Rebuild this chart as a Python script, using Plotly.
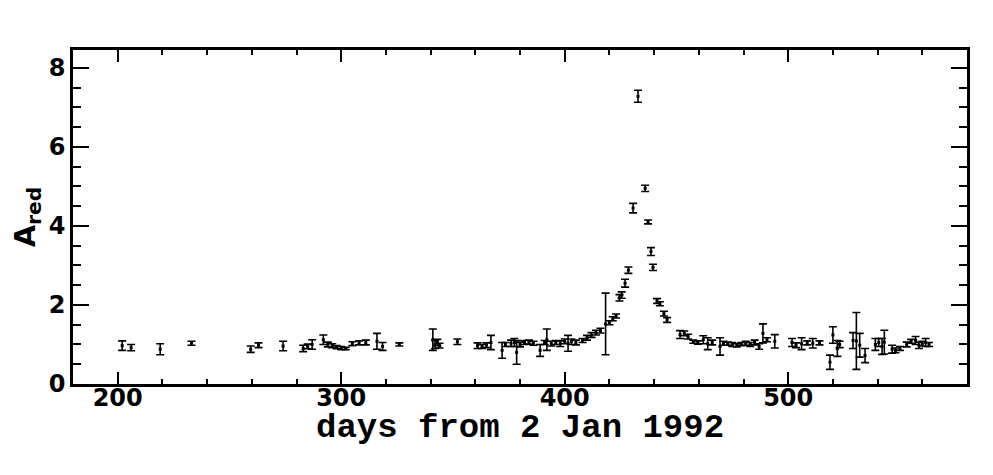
import plotly.graph_objects as go

days = [202, 206, 219, 233, 259.5, 263, 274, 283, 285, 287, 292, 294, 296, 298, 300, 302,
        305, 308, 311, 316, 318.5, 326, 341, 342, 343, 344, 352, 361, 363, 365, 367,
        372, 373.5, 376, 377.5, 378.5, 380, 382, 384, 386, 389, 391, 392, 394, 396, 398,
        400, 401.5, 403, 405, 408, 410, 412, 414, 416, 418.3, 420, 421.5, 423, 424.5,
        425.5, 427, 428.5, 430.6, 432.8, 436, 437.3, 438.6, 439.5, 441.3, 442.6, 444.4,
        445.8, 451.6, 453.5, 455.2, 457.5, 459.6, 462, 464, 466, 469.5, 471, 473, 475,
        477, 479, 481, 483, 485, 487, 488.7, 490.5, 494, 501.7, 503.5, 506, 508.5, 511,
        514, 518.7, 520, 522, 523, 529, 530.5, 532, 534.4, 539, 540.5, 542, 543, 546.5,
        548, 550, 553, 555, 557, 558.5, 560, 561.5, 563]

a_red = [0.97, 0.92, 0.88, 1.03, 0.88, 0.98, 0.96, 0.90, 0.95, 1.00, 1.12, 1.00, 0.97, 0.93,
         0.91, 0.90, 1.02, 1.04, 1.05, 1.08, 0.95, 1.00, 1.12, 1.00, 1.05, 0.97, 1.07, 0.97,
         0.95, 0.98, 1.05, 0.85, 1.00, 1.03, 1.05, 0.80, 1.00, 1.05, 1.06, 1.03, 0.85, 1.05,
         1.12, 1.02, 1.05, 1.02, 1.08, 1.03, 1.07, 1.05, 1.10, 1.17, 1.24, 1.30, 1.35, 1.52,
         1.55, 1.65, 1.72, 2.18, 2.25, 2.55, 2.88, 4.45, 7.28, 4.95, 4.10, 3.35, 2.95, 2.10,
         2.03, 1.78, 1.62, 1.25, 1.28, 1.20, 1.07, 1.05, 1.12, 1.02, 1.05, 0.95, 1.03, 1.02,
         1.00, 0.98, 1.01, 1.03, 1.00, 1.05, 0.95, 1.28, 1.12, 1.08, 1.05, 0.98, 1.02, 1.04,
         1.03, 1.04, 0.55, 1.24, 0.90, 1.00, 1.10, 1.09, 0.98, 0.72, 1.00, 1.05, 0.95, 1.06,
         0.88, 0.85, 0.90, 1.00, 1.08, 1.10, 0.98, 1.02, 1.05, 1.00]

a_err = [0.12, 0.08, 0.14, 0.05, 0.08, 0.06, 0.12, 0.08, 0.06, 0.12, 0.12, 0.06, 0.05, 0.04,
         0.04, 0.03, 0.05, 0.05, 0.06, 0.20, 0.10, 0.04, 0.27, 0.10, 0.08, 0.06, 0.07, 0.07,
         0.05, 0.06, 0.18, 0.20, 0.05, 0.08, 0.10, 0.30, 0.06, 0.05, 0.05, 0.05, 0.15, 0.05,
         0.27, 0.06, 0.05, 0.07, 0.06, 0.20, 0.07, 0.06, 0.05, 0.06, 0.06, 0.06, 0.06, 0.78,
         0.05, 0.05, 0.05, 0.08, 0.08, 0.10, 0.08, 0.12, 0.15, 0.08, 0.05, 0.10, 0.08, 0.06,
         0.05, 0.06, 0.06, 0.10, 0.06, 0.06, 0.04, 0.04, 0.10, 0.15, 0.06, 0.22, 0.05, 0.04,
         0.05, 0.04, 0.04, 0.05, 0.05, 0.06, 0.07, 0.24, 0.05, 0.17, 0.10, 0.06, 0.15, 0.05,
         0.12, 0.05, 0.18, 0.21, 0.20, 0.08, 0.20, 0.72, 0.30, 0.18, 0.15, 0.10, 0.20, 0.30,
         0.10, 0.06, 0.05, 0.06, 0.05, 0.10, 0.08, 0.06, 0.10, 0.05]

fig = go.Figure(go.Scatter(
    x=days, y=a_red, mode='markers',
    marker=dict(symbol='square', size=3, color='black'),
    error_y=dict(type='data', array=a_err, visible=True, color='black', thickness=1.6, width=4),
    hoverinfo='x+y'
))

tickfont = dict(family='DejaVu Sans', size=24, color='black', weight='bold')

# the page body has an 8px margin, so the figure is a bit smaller than the window
fig.update_layout(
    width=985, height=467,
    margin=dict(l=65, r=26, t=42, b=91),
    plot_bgcolor='white', paper_bgcolor='white',
    showlegend=False,
    xaxis=dict(
        range=[180, 580], showgrid=False, zeroline=False, automargin=False,
        showline=True, linecolor='black', linewidth=2.5, mirror='allticks',
        ticks='inside', ticklen=12, tickwidth=2, tickcolor='black',
        tick0=0, dtick=100, tickfont=tickfont, ticklabelstandoff=-10,
        minor=dict(ticks='inside', ticklen=5, tickwidth=2, tickcolor='black', dtick=20, showgrid=False),
    ),
    yaxis=dict(
        range=[0, 8.45], showgrid=False, zeroline=False, automargin=False,
        showline=True, linecolor='black', linewidth=2.5, mirror='allticks',
        ticks='inside', ticklen=16, tickwidth=2, tickcolor='black',
        tick0=0, dtick=2, tickfont=tickfont,
        minor=dict(ticks='inside', ticklen=8, tickwidth=2, tickcolor='black', dtick=0.5, showgrid=False),
        title=dict(text='A<sub>red</sub>', standoff=20,
                   font=dict(family='DejaVu Sans', size=29, color='black', weight='bold')),
    ),
)

# x title as an annotation so it can sit close under the tick labels
fig.add_annotation(
    text='days from 2 Jan 1992', xref='paper', yref='paper', x=0.5, y=-0.132,
    xanchor='center', yanchor='middle', showarrow=False,
    font=dict(family='Liberation Mono', size=34, color='black', weight='bold')
)

fig.write_html("out.html")
